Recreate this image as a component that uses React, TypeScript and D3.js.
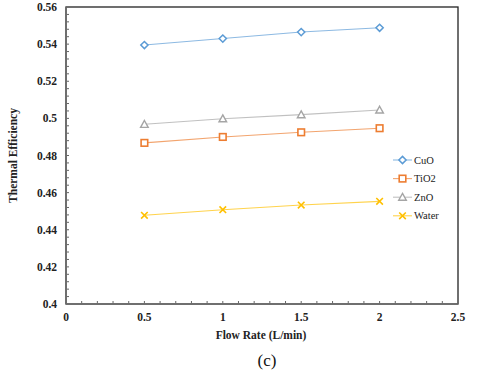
import { useMemo } from 'react';
import * as d3 from 'd3';

// flow rates (L/min)
const flowRates = [0.5, 1, 1.5, 2];
// thermal efficiency
const cuo = [0.5395, 0.5430, 0.5465, 0.5488];
const tio2 = [0.4868, 0.4900, 0.4925, 0.4947];
const zno = [0.4968, 0.4998, 0.5020, 0.5045];
const water = [0.4478, 0.4508, 0.4533, 0.4553];

const seriesNames = ['CuO', 'TiO2', 'ZnO', 'Water'];
const seriesColors = ['#5B9BD5', '#ED7D31', '#A5A5A5', '#FFC000'];
const seriesMarkers = ['diamond', 'square', 'triangle', 'cross'];

const xTicks = [0, 0.5, 1, 1.5, 2, 2.5];
const yTicks = [0.4, 0.42, 0.44, 0.46, 0.48, 0.5, 0.52, 0.54, 0.56];

const W = 480;
const H = 373;
const margin = { left: 66, right: 22, top: 7, bottom: 69 };
const serif = { fontFamily: 'Liberation Serif' };

const Marker = ({ kind, x, y, color }: { kind: string; x: number; y: number; color: string }) => {
  if (kind === 'diamond') {
    const s = 3.6;
    return (
      <path
        d={`M${x},${y - s}L${x + s},${y}L${x},${y + s}L${x - s},${y}Z`}
        fill="white"
        stroke={color}
        strokeWidth={1.5}
      />
    );
  }
  if (kind === 'square') {
    const s = 3.3;
    return <rect x={x - s} y={y - s} width={2 * s} height={2 * s} fill="white" stroke={color} strokeWidth={1.6} />;
  }
  if (kind === 'triangle') {
    const s = 3.8;
    return (
      <path
        d={`M${x},${y - s}L${x + s},${y + s * 0.8}L${x - s},${y + s * 0.8}Z`}
        fill="white"
        stroke={color}
        strokeWidth={1.4}
      />
    );
  }
  const s = 3.3;
  return (
    <path
      d={`M${x - s},${y - s}L${x + s},${y + s}M${x + s},${y - s}L${x - s},${y + s}`}
      stroke={color}
      strokeWidth={1.6}
    />
  );
};

export default function App() {
  const innerW = W - margin.left - margin.right;
  const innerH = H - margin.top - margin.bottom;

  const xScale = useMemo(() => d3.scaleLinear().domain([0, 2.5]).range([margin.left, margin.left + innerW]), [innerW]);
  const yScale = useMemo(() => d3.scaleLinear().domain([0.4, 0.56]).range([margin.top + innerH, margin.top]), [innerH]);

  const series = [cuo, tio2, zno, water];
  const line = d3
    .line<number>()
    .x((_, i) => xScale(flowRates[i]))
    .y((d) => yScale(d));

  // minor ticks: 0.1 on x, 0.004 on y
  const xMinor = d3.range(1, 25).map((i) => i / 10);
  const yMinor = d3.range(1, 40).map((i) => 0.4 + i * 0.004);

  const x0 = xScale(0);
  const y0 = yScale(0.4);

  return (
    <svg width={W} height={H} style={{ position: 'absolute', left: 0, top: 0, background: 'white' }}>
      {/* plot frame */}
      <rect
        x={margin.left}
        y={margin.top}
        width={innerW}
        height={innerH}
        fill="white"
        stroke="#222"
        strokeWidth={1.3}
      />

      {/* minor ticks inside */}
      {xMinor.map((v) => (
        <line key={'xm' + v} x1={xScale(v)} x2={xScale(v)} y1={y0} y2={y0 - 3} stroke="#666" strokeWidth={1} />
      ))}
      {yMinor.map((v) => (
        <line key={'ym' + v} x1={x0} x2={x0 + 3} y1={yScale(v)} y2={yScale(v)} stroke="#666" strokeWidth={1} />
      ))}

      {/* axes lines */}
      <line x1={x0} x2={xScale(2.5)} y1={y0} y2={y0} stroke="#6f6f6f" strokeWidth={1.6} />
      <line x1={x0} x2={x0} y1={y0} y2={yScale(0.56)} stroke="#6f6f6f" strokeWidth={1.6} />

      {/* tick labels */}
      {xTicks.map((v) => (
        <text
          key={'xt' + v}
          x={xScale(v)}
          y={y0 + 17}
          textAnchor="middle"
          fontSize={11.5}
          fontWeight="bold"
          fill="#222"
          style={serif}
        >
          {v}
        </text>
      ))}
      {yTicks.map((v) => (
        <text
          key={'yt' + v}
          x={x0 - 9}
          y={yScale(v) + 4}
          textAnchor="end"
          fontSize={11.5}
          fontWeight="bold"
          fill="#222"
          style={serif}
        >
          {v}
        </text>
      ))}

      {/* series */}
      {series.map((s, si) => (
        <g key={seriesNames[si]}>
          <path d={line(s) ?? ''} fill="none" stroke={seriesColors[si]} strokeWidth={1.1} strokeOpacity={0.7} />
          {s.map((v, i) => (
            <Marker key={i} kind={seriesMarkers[si]} x={xScale(flowRates[i])} y={yScale(v)} color={seriesColors[si]} />
          ))}
        </g>
      ))}

      {/* legend */}
      {seriesNames.map((name, i) => {
        const ly = 160 + i * 18.6;
        return (
          <g key={'lg' + name}>
            <line x1={393} x2={412} y1={ly} y2={ly} stroke={seriesColors[i]} strokeWidth={1.1} strokeOpacity={0.7} />
            <Marker kind={seriesMarkers[i]} x={402.5} y={ly} color={seriesColors[i]} />
            <text x={414} y={ly + 3.5} fontSize={10.5} fill="#222" style={serif}>
              {name}
            </text>
          </g>
        );
      })}

      {/* axis titles */}
      <text
        transform={`translate(17, ${(margin.top + y0) / 2}) rotate(-90)`}
        textAnchor="middle"
        fontSize={11.5}
        fontWeight="bold"
        fill="#222"
        style={serif}
      >
        Thermal Efficiency
      </text>
      <text x={261} y={339} textAnchor="middle" fontSize={11.5} fontWeight="bold" fill="#222" style={serif}>
        Flow Rate (L/min)
      </text>
      <text x={267} y={366} textAnchor="middle" fontSize={17} fill="#111" style={serif}>
        (c)
      </text>
    </svg>
  );
}
